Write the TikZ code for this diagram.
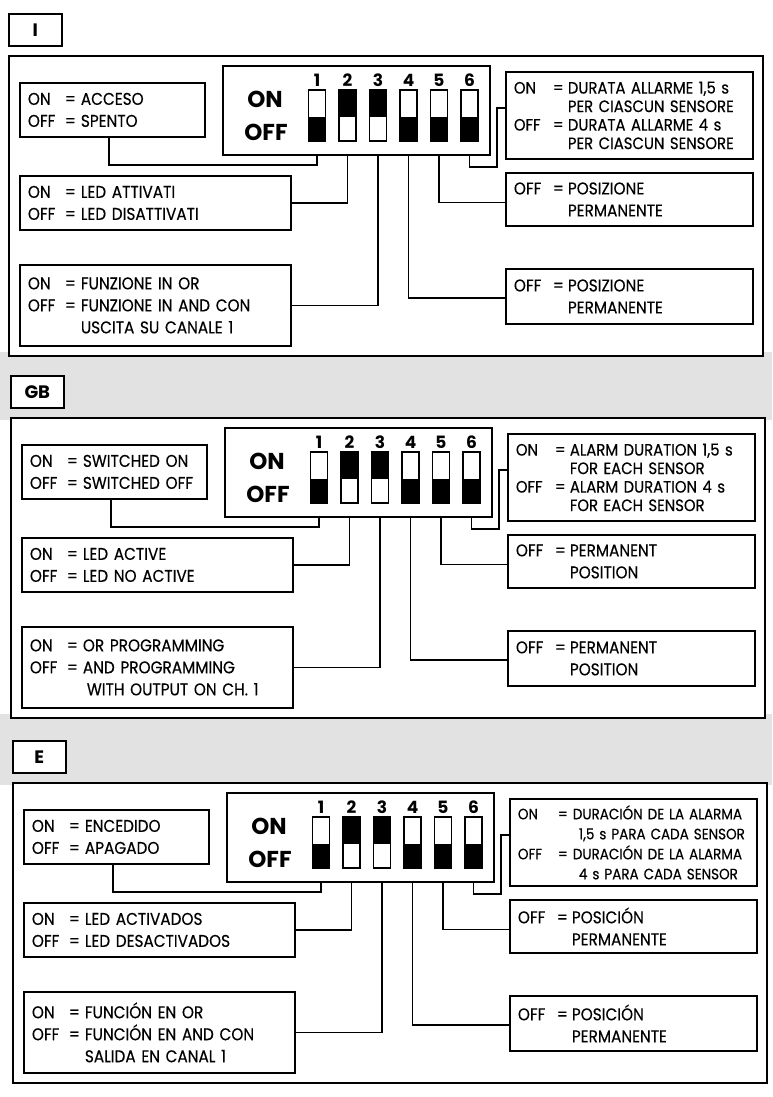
\documentclass[tikz,border=0pt]{standalone}
\usepackage{fontspec}
\setmainfont{Poppins}[FakeStretch=0.9, FakeBold=0.35]
\newfontfamily\dipfont{Poppins}
\definecolor{paper}{gray}{0.885}
\newlength\kw
\newlength\ew
\newcommand\kv[2]{\makebox[\kw][l]{#1}\makebox[\ew][l]{=}#2}
\newcommand\kc[1]{\hspace*{\kw}\hspace*{\ew}#1}
\newcommand\dippanel[7]{%
  \node[tagbox, minimum width=53pt, minimum height=32pt] (lab) at (8,13) {#1};
  \node[panel, minimum width=754pt, minimum height=300pt] (outer) at (8,55) {};
  \node[dipbox, minimum width=267pt, minimum height=89pt] (dip) at (222,65) {};
  \node[dipl] (lon) at (265,99.5) {ON};
  \node[dipl] (loff) at (266,132) {OFF};
  \foreach \i/\a in {1/south west,2/north west,3/north west,4/south west,5/south west,6/south west}{%
    \node[swbase] (sw\i) at ({317+30.5*(\i-1)},115.5) {};
    \fill (sw\i.\a) rectangle ([yshift=-1.5pt]sw\i.east);
    \draw[line width=1.3pt] (sw\i.south west) rectangle (sw\i.north east);
    \node[digit] (n\i) at ({317+30.5*(\i-1)},80) {\i};
  }
  \node[lbox, minimum width=185pt, text width=169pt, minimum height=54pt] (b1) at (19,82) {#2};
  \node[lbox, minimum width=271pt, text width=255pt, minimum height=54pt] (b2) at (19,175) {#3};
  \node[lbox, minimum width=271pt, text width=255pt, minimum height=81pt] (b3) at (19,264) {#4};
  \node[abox, minimum width=247pt, text width=231pt, minimum height=87pt] (bA) at (505,71) {#5};
  \node[rbox, minimum width=247pt, text width=231pt, minimum height=53pt] (bB) at (505,172) {#6};
  \node[rbox, minimum width=247pt, text width=231pt, minimum height=55pt] (bC) at (505,268) {#7};
  \draw[conn] ([xshift=-3.5pt]b1.south) -- ++(0,27) -| (dip.south -| sw1);
  \draw[conn] (b2.east) -| (dip.south -| sw2);
  \draw[conn] (b3.east) -| (dip.south -| sw3);
  \draw[conn] (dip.south -| sw4) |- ([yshift=-1.5pt]bC.west);
  \draw[conn] (dip.south -| sw5) |- ([yshift=-3pt]bB.west);
  \draw[conn] (dip.south -| sw6) -- ++(0,11) -| ([xshift=-8pt,yshift=7.5pt]bA.west) -- ([yshift=7.5pt]bA.west);
}
\begin{document}
\begin{tikzpicture}[x=1pt,y=-1pt,
  tagbox/.style={draw, line width=1.6pt, fill=white, anchor=north west, inner sep=0pt,
    font=\dipfont\bfseries\fontsize{18}{18}\selectfont},
  panel/.style={draw, line width=2pt, fill=white, anchor=north west, inner sep=0pt},
  dipbox/.style={draw, line width=1.8pt, fill=white, anchor=north west, inner sep=0pt},
  dipl/.style={inner sep=0pt, font=\dipfont\bfseries\fontsize{23}{23}\selectfont},
  digit/.style={inner sep=0pt, font=\dipfont\bfseries\fontsize{17}{17}\selectfont},
  swbase/.style={draw, line width=1.3pt, fill=white, minimum width=17pt, minimum height=51pt, inner sep=0pt, outer sep=0pt},
  lbox/.style={draw, line width=1.8pt, fill=white, anchor=north west, inner xsep=8pt, inner ysep=0pt, align=left,
    font=\fontsize{17}{22}\selectfont\setlength\kw{37pt}\setlength\ew{16pt}},
  rbox/.style={lbox, font=\fontsize{17}{22}\selectfont\setlength\kw{39pt}\setlength\ew{15pt}},
  abox/.style={lbox, font=\fontsize{16.5}{18.5}\selectfont\setlength\kw{39pt}\setlength\ew{15pt}},
  conn/.style={line width=1.5pt}]
\useasboundingbox (0,0) rectangle (772,1097);
\fill[white] (0,0) rectangle (772,1097);
\fill[paper] (0,352) rectangle (772,420);
\fill[paper] (0,714) rectangle (772,785);

\begin{scope}[name prefix=I-]
\dippanel{I}%
  {\kv{ON}{ACCESO}\\\kv{OFF}{SPENTO}}%
  {\kv{ON}{LED ATTIVATI}\\\kv{OFF}{LED DISATTIVATI}}%
  {\kv{ON}{FUNZIONE IN OR}\\\kv{OFF}{FUNZIONE IN AND CON}\\\kc{USCITA SU CANALE 1}}%
  {\kv{ON}{DURATA ALLARME 1,5 s}\\\kc{PER CIASCUN SENSORE}\\\kv{OFF}{DURATA ALLARME 4 s}\\\kc{PER CIASCUN SENSORE}}%
  {\kv{OFF}{POSIZIONE}\\\kc{PERMANENTE}}%
  {\kv{OFF}{POSIZIONE}\\\kc{PERMANENTE}}
\end{scope}

\begin{scope}[shift={(2,362)}, name prefix=GB-]
\dippanel{GB}%
  {\kv{ON}{SWITCHED ON}\\\kv{OFF}{SWITCHED OFF}}%
  {\kv{ON}{LED ACTIVE}\\\kv{OFF}{LED NO ACTIVE}}%
  {\kv{ON}{OR PROGRAMMING}\\\kv{OFF}{AND PROGRAMMING}\\\kc{\hspace*{4pt}WITH OUTPUT ON CH. 1}}%
  {\kv{ON}{ALARM DURATION 1,5 s}\\\kc{FOR EACH SENSOR}\\\kv{OFF}{ALARM DURATION 4 s}\\\kc{FOR EACH SENSOR}}%
  {\kv{OFF}{PERMANENT}\\\kc{POSITION}}%
  {\kv{OFF}{PERMANENT}\\\kc{POSITION}}
\end{scope}

\begin{scope}[shift={(4,727)}, name prefix=E-,
  abox/.style={lbox, font=\fontsize{15}{20}\selectfont\setlength\kw{40pt}\setlength\ew{15pt}}]
\dippanel{E}%
  {\kv{ON}{ENCEDIDO}\\\kv{OFF}{APAGADO}}%
  {\kv{ON}{LED ACTIVADOS}\\\kv{OFF}{LED DESACTIVADOS}}%
  {\kv{ON}{FUNCIÓN EN OR}\\\kv{OFF}{FUNCIÓN EN AND CON}\\\kc{SALIDA EN CANAL 1}}%
  {\kv{ON}{DURACIÓN DE LA ALARMA}\\\kc{\hspace*{6pt}1,5 s PARA CADA SENSOR}\\\kv{OFF}{DURACIÓN DE LA ALARMA}\\\kc{\hspace*{6pt}4 s PARA CADA SENSOR}}%
  {\kv{OFF}{POSICIÓN}\\\kc{PERMANENTE}}%
  {\kv{OFF}{POSICIÓN}\\\kc{PERMANENTE}}
\end{scope}
\end{tikzpicture}
\end{document}
